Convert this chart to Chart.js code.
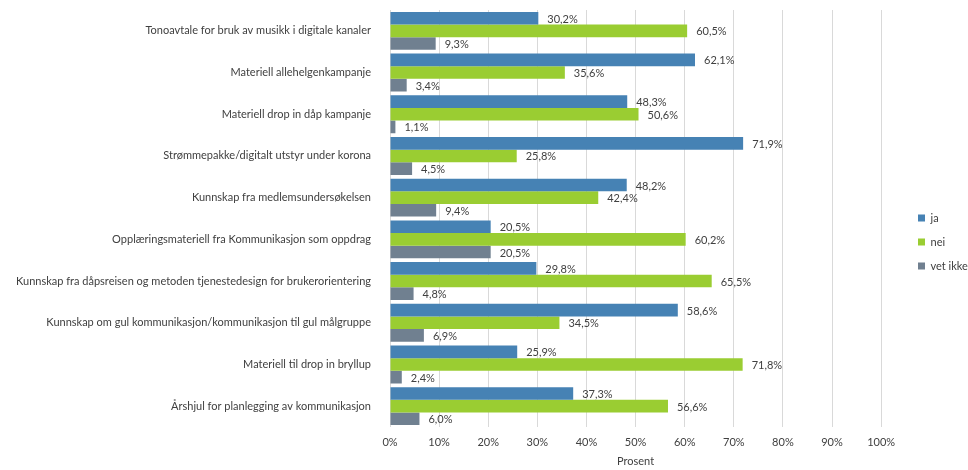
<!DOCTYPE html>
<html>
<head>
<meta charset="utf-8">
<script src="https://cdn.jsdelivr.net/npm/chart.js@4.4.1/dist/chart.umd.min.js"></script>
<style>
    html, body { margin: 0; padding: 0; background: #ffffff; }
    #wrap { width: 968px; height: 470px; }
</style>
</head>
<body>
<div id="wrap"><canvas id="chart" width="968" height="470"></canvas></div>
<script>
// Survey answers per tool / material (percent)
const categories = [
    'Tonoavtale for bruk av musikk i digitale kanaler',
    'Materiell allehelgenkampanje',
    'Materiell drop in dåp kampanje',
    'Strømmepakke/digitalt utstyr under korona',
    'Kunnskap fra medlemsundersøkelsen',
    'Opplæringsmateriell fra Kommunikasjon som oppdrag',
    'Kunnskap fra dåpsreisen og metoden tjenestedesign for brukerorientering',
    'Kunnskap om gul kommunikasjon/kommunikasjon til gul målgruppe',
    'Materiell til drop in bryllup',
    'Årshjul for planlegging av kommunikasjon'
];
const seriesNames = ['ja', 'nei', 'vet ikke'];
const jaValues = [30.2, 62.1, 48.3, 71.9, 48.2, 20.5, 29.8, 58.6, 25.9, 37.3];
const neiValues = [60.5, 35.6, 50.6, 25.8, 42.4, 60.2, 65.5, 34.5, 71.8, 56.6];
const vetIkkeValues = [9.3, 3.4, 1.1, 4.5, 9.4, 20.5, 4.8, 6.9, 2.4, 6.0];
const xTicks = [0, 10, 20, 30, 40, 50, 60, 70, 80, 90, 100];

const FONT = 'Lato, "Open Sans", sans-serif';
const FONT_SIZE = 11;
const TEXT_COLOR = '#404040';

// Format 30.2 -> "30,2%"
function pct(v) {
    return v.toFixed(1).replace('.', ',') + '%';
}

// Value labels at the end of every bar
const barLabels = {
    id: 'barLabels',
    afterDatasetsDraw(chart) {
        const ctx = chart.ctx;
        ctx.save();
        ctx.font = FONT_SIZE + 'px ' + FONT;
        ctx.fillStyle = TEXT_COLOR;
        ctx.textAlign = 'left';
        ctx.textBaseline = 'middle';
        chart.data.datasets.forEach((ds, i) => {
            chart.getDatasetMeta(i).data.forEach((bar, j) => {
                ctx.fillText(pct(ds.data[j]), bar.x + 9, bar.y + 1);
            });
        });
        ctx.restore();
    }
};

// Move the legend block a little right of and below its default spot
const legendPlacement = {
    id: 'legendPlacement',
    afterLayout(chart) {
        const lg = chart.legend;
        if (!lg) return;
        const dx = 918 - (lg.left + lg.options.labels.padding);
        const dy = 2;
        lg.left += dx;
        lg.right += dx;
        lg.top += dy;
        lg.bottom += dy;
    }
};

function initChart() {
    const ctx = document.getElementById('chart').getContext('2d');
    new Chart(ctx, {
        type: 'bar',
        data: {
            labels: categories,
            datasets: [
                { label: seriesNames[0], data: jaValues, backgroundColor: '#4682B4' },
                { label: seriesNames[1], data: neiValues, backgroundColor: '#9ACD32' },
                { label: seriesNames[2], data: vetIkkeValues, backgroundColor: '#708090' }
            ]
        },
        options: {
            indexAxis: 'y',
            responsive: false,
            animation: false,
            datasets: {
                bar: { categoryPercentage: 0.91, barPercentage: 1.0 }
            },
            layout: {
                padding: { top: 10, right: 14, bottom: 0, left: 0 }
            },
            scales: {
                x: {
                    min: 0,
                    max: 100,
                    afterBuildTicks(scale) {
                        scale.ticks = xTicks.map(v => ({ value: v }));
                    },
                    afterFit(scale) {
                        scale.height = 43;
                    },
                    grid: { color: '#d9d9d9', lineWidth: 1, drawTicks: false },
                    border: { display: false },
                    ticks: {
                        padding: 9,
                        color: TEXT_COLOR,
                        font: { family: FONT, size: FONT_SIZE },
                        maxRotation: 0,
                        callback: v => v + '%'
                    },
                    title: {
                        display: true,
                        text: 'Prosent',
                        color: TEXT_COLOR,
                        font: { family: FONT, size: FONT_SIZE },
                        padding: { top: 0, bottom: 2 }
                    }
                },
                y: {
                    afterFit(scale) {
                        scale.width = 390;
                        scale.paddingTop = 0;
                        scale.paddingBottom = 0;
                    },
                    grid: { display: false },
                    border: { display: false },
                    ticks: {
                        padding: 11,
                        color: TEXT_COLOR,
                        font: { family: FONT, size: FONT_SIZE },
                        autoSkip: false
                    }
                }
            },
            plugins: {
                legend: {
                    position: 'right',
                    labels: {
                        boxWidth: 7,
                        boxHeight: 7,
                        padding: 13,
                        color: TEXT_COLOR,
                        font: { family: FONT, size: FONT_SIZE }
                    }
                },
                tooltip: { enabled: false }
            }
        },
        plugins: [barLabels, legendPlacement]
    });
}

document.addEventListener('DOMContentLoaded', initChart);
</script>
</body>
</html>
